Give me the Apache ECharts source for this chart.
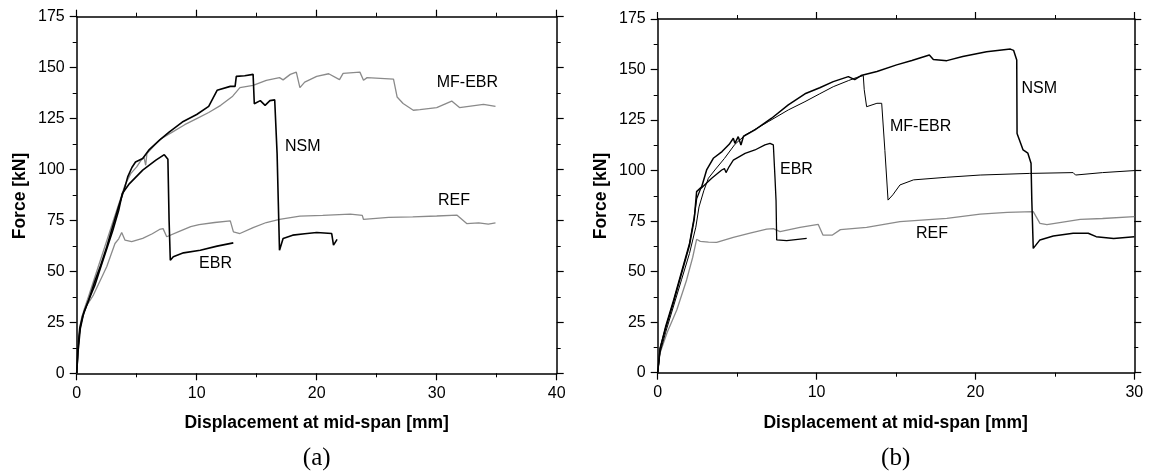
<!DOCTYPE html>
<html><head><meta charset="utf-8">
<script src="https://cdn.jsdelivr.net/npm/echarts@6/dist/echarts.min.js"></script>
<style>html,body{margin:0;padding:0;background:#fff}#c{width:1150px;height:473px}</style>
</head><body><div id="c"></div>
<script>
// ---- Panel (a) data: [displacement mm, force kN]
const aREF = [[0,0],[0.1,8],[0.2,18],[0.42,27.7],[0.8,33],[1.39,38.4],[2,46],[2.5,52.3],[3.19,63.7],[3.5,66],[3.75,69.1],[4.03,65.3],[4.58,64.6],[5.5,66.2],[6.3,68.5],[6.9,70.6],[7.2,71],[7.5,67],[8.5,69.5],[9.5,72],[10.2,73],[11.5,74],[12.8,74.8],[13.06,69.4],[13.6,68.6],[14.7,71.5],[15.8,74],[16.9,75.5],[18.6,77.1],[20.5,77.5],[22.8,78.1],[23.8,77.5],[23.9,75.5],[26,76.5],[28,76.8],[30,77.2],[31.7,77.6],[32.5,73.5],[33.5,73.8],[34.3,73.2],[34.9,73.8]];
const aMF = [[0,0],[0.1,12],[0.3,24],[0.6,31],[1,38],[1.5,47],[2,56],[2.5,65],[3,74],[3.5,83],[4,92],[4.5,98],[5,101.3],[5.3,104],[5.6,106.2],[5.75,102.1],[5.85,107.8],[6.5,112],[7,115],[8,118.5],[9,122],[10,125],[11,128],[12,131.5],[13,136],[13.6,140.2],[14.7,141.3],[15.8,143.8],[16.9,145.1],[17.2,144],[17.8,146.7],[18.3,147.8],[18.6,140.2],[19,142.9],[20,145.7],[21,147],[21.9,144.1],[22.2,147.2],[23.6,147.8],[23.9,143.8],[24.2,145.1],[26.4,144.4],[26.7,135.6],[27.2,132.4],[28.05,129.1],[28.6,129.4],[30,130.4],[31.25,133.6],[31.9,130.4],[33.9,132],[34.9,131]];
const aNSM = [[0,0],[0.1,12],[0.25,22],[0.5,28],[1,36],[1.5,45],[2,53],[2.5,62],[3,72],[3.5,82],[4,91],[4.25,96.4],[4.6,101],[4.9,103.7],[5.5,105.4],[6.05,109.8],[6.9,114.4],[7.7,118.4],[8.8,123.3],[10,127],[11,131],[11.7,138.9],[12.8,140.8],[13.2,140.8],[13.3,145.7],[14,146],[14.7,146.7],[14.8,132.3],[15.3,133.8],[15.7,131.5],[16.1,133.8],[16.5,134.2],[16.7,107.8],[16.8,84],[16.9,60.4],[17.2,66.2],[18,67.8],[19,68.5],[20,69.1],[21.25,68.6],[21.4,62.9],[21.7,65.7]];
const aEBR = [[0,0],[0.1,10],[0.3,22],[0.6,30],[1,36],[1.5,43],[2,52],[2.5,61],[3,70],[3.5,80],[3.8,88.2],[4.4,93.1],[5.5,99.7],[6.6,104.6],[7.3,107.3],[7.45,107],[7.6,105],[7.7,75],[7.8,55.5],[8.05,57.2],[8.9,59.1],[10.3,60.4],[11.7,62.4],[13.05,64]];
// ---- Panel (b) data
const bREF = [[0,0],[0.14,9.6],[0.6,20],[1.2,31],[1.82,45.9],[2.2,57],[2.45,66],[2.68,65],[3.2,64.6],[3.71,64.5],[4.76,67],[5.81,69],[6.86,71],[7.28,71.3],[7.7,69.8],[8.96,71.9],[10.1,73.4],[10.4,68.1],[11.0,68.1],[11.5,70.8],[13.15,71.9],[15.25,74.7],[18.2,76.4],[20.3,78.5],[22,79.3],[23.64,79.7],[24.06,73.9],[24.5,73.3],[26.6,75.9],[28,76.3],[30,77.2]];
const bNSM = [[0,0],[0.15,12],[0.5,22],[1,35],[1.5,49],[2,63],[2.3,76],[2.45,89.6],[2.77,92],[3.08,100.3],[3.5,106.1],[4.05,109.4],[4.5,113],[4.76,116],[4.86,113.5],[5.07,116.8],[5.24,112.7],[5.4,117],[6.12,120.1],[7.17,125.9],[8.22,132.5],[9.27,138],[10.2,141],[11.05,144],[12.0,146.5],[12.4,145],[12.8,147],[13.8,149],[15.04,152.3],[16,154.5],[17.1,157.2],[17.35,155],[18.2,154.4],[19.2,156.4],[20.7,158.8],[22.2,160.1],[22.4,159.5],[22.6,154.7],[22.62,118.4],[23,110.2],[23.3,108.6],[23.5,103.6],[23.55,85],[23.64,61.5],[24.06,65.7],[24.9,67.6],[26.15,69],[27.1,69],[27.6,67.3],[28.7,66.4],[30,67.3]];
const bMF = [[0,0],[0.15,10],[0.5,20],[1,33],[1.5,46],[2,59],[2.4,72],[2.6,82],[2.9,90],[3.19,96.2],[3.6,100.3],[4.2,106],[4.86,113],[5.5,117.5],[6.96,124.2],[8.22,130],[9.27,134.1],[10.2,138],[11.05,141.5],[12,144.5],[12.5,146],[12.94,147],[13.0,140],[13.15,131.6],[13.8,133.3],[14.1,133.3],[14.2,132.4],[14.3,110],[14.5,85.4],[14.8,88],[15.25,92.9],[16.1,95.4],[18.2,96.7],[20.3,97.8],[23.4,98.6],[26.15,99],[26.3,97.8],[28,99],[30,100]];
const bEBR = [[0,0],[0.15,12],[0.5,23],[1,36],[1.5,50],[2,64],[2.3,77],[2.45,86],[2.7,91],[3.4,96.2],[4.03,100.3],[4.2,101],[4.3,99],[4.5,102],[4.76,105.2],[5.5,108.5],[6.12,110.2],[6.75,112.7],[7.07,113.5],[7.28,112.7],[7.38,97],[7.45,85],[7.49,65.7],[8.12,65.3],[9.38,66.5]];
// ---- Curve labels: [text, x, y] in data units (text starts at x, centred on y)
const aLabels = [["MF-EBR",30.0,142.8],["NSM",17.36,111.1],["REF",30.1,85],["EBR",10.2,53.9]];
const bLabels = [["EBR",7.7,100.3],["MF-EBR",14.62,121.7],["NSM",22.9,140.7],["REF",16.26,68.6]];
// ---- Axes
const aXMax = 40, bXMax = 30, yMax = 175, xStep = 10, yStep = 25;
const yTitle = "Force [kN]";
const xTitle = "Displacement at mid-span [mm]";
const panelTags = ["(a)", "(b)"];

const FONT = "'Liberation Sans', Arial, sans-serif";
const chart = echarts.init(document.getElementById('c'), null, {renderer:'canvas'});
const GRAY = '#8a8a8a';

function xAx(gi, max, pos){
  return {gridIndex:gi, type:'value', min:0, max:max, interval:xStep, position:pos,
    axisLine:{show:true, onZero:false, lineStyle:{color:'#000', width:1.5}},
    axisTick:{show:true, inside:false, length:7, lineStyle:{color:'#000', width:1.2}},
    minorTick:{show:true, splitNumber:2, length:4, lineStyle:{color:'#000', width:1}},
    axisLabel:{show:pos==='bottom', margin:12, color:'#000', fontSize:16, fontFamily:FONT},
    splitLine:{show:false}};
}
function yAx(gi, pos){
  return {gridIndex:gi, type:'value', min:0, max:yMax, interval:yStep, position:pos,
    axisLine:{show:true, onZero:false, lineStyle:{color:'#000', width:1.5}},
    axisTick:{show:true, inside:false, length:7, lineStyle:{color:'#000', width:1.2}},
    minorTick:{show:true, splitNumber:2, length:4, lineStyle:{color:'#000', width:1}},
    axisLabel:{show:pos==='left', margin:12, color:'#000', fontSize:16, fontFamily:FONT},
    splitLine:{show:false}};
}
function ln(name, data, xi, yi, color, w){
  return {name:name, type:'line', data:data, xAxisIndex:xi, yAxisIndex:yi,
    showSymbol:false, symbol:'none', smooth:false, animation:false,
    lineStyle:{color:color, width:w}, z:3};
}

chart.setOption({
  animation:false,
  grid:[
    {left:76.7, top:16.7, width:480, height:356.6},
    {left:657.7, top:19, width:476.6, height:353.7}
  ],
  xAxis:[xAx(0,aXMax,'bottom'), xAx(0,aXMax,'top'), xAx(1,bXMax,'bottom'), xAx(1,bXMax,'top')],
  yAxis:[yAx(0,'left'), yAx(0,'right'), yAx(1,'left'), yAx(1,'right')],
  series:[
    ln('REF', aREF, 0, 0, GRAY, 1.3),
    ln('MF-EBR', aMF, 0, 0, GRAY, 1.3),
    ln('EBR', aEBR, 0, 0, '#000', 1.6),
    ln('NSM', aNSM, 0, 0, '#000', 1.6),
    ln('REF', bREF, 2, 2, GRAY, 1.3),
    ln('MF-EBR', bMF, 2, 2, '#000', 1.0),
    ln('EBR', bEBR, 2, 2, '#000', 1.3),
    ln('NSM', bNSM, 2, 2, '#000', 1.5)
  ]
});

function addTexts(){
  const g = [];
  aLabels.forEach(l=>{
    const p = chart.convertToPixel({xAxisIndex:0, yAxisIndex:0}, [l[1], l[2]]);
    g.push({type:'text', x:p[0], y:p[1], style:{text:l[0], font:'16px '+FONT, fill:'#000', textAlign:'left', textVerticalAlign:'middle'}});
  });
  bLabels.forEach(l=>{
    const p = chart.convertToPixel({xAxisIndex:2, yAxisIndex:2}, [l[1], l[2]]);
    g.push({type:'text', x:p[0], y:p[1], style:{text:l[0], font:'16px '+FONT, fill:'#000', textAlign:'left', textVerticalAlign:'middle'}});
  });
  [[20,196],[601,196]].forEach(pt=>{
    g.push({type:'text', x:pt[0], y:pt[1], rotation:Math.PI/2,
      style:{text:yTitle, font:'bold 17.5px '+FONT, fill:'#000', textAlign:'center', textVerticalAlign:'middle'}});
  });
  [[316.7,423],[895.7,423]].forEach(pt=>{
    g.push({type:'text', x:pt[0], y:pt[1], style:{text:xTitle, font:'bold 17.5px '+FONT, fill:'#000', textAlign:'center', textVerticalAlign:'middle'}});
  });
  [[316.7,458],[895.7,458]].forEach((pt,i)=>{
    g.push({type:'text', x:pt[0], y:pt[1], style:{text:panelTags[i], font:'25px "Liberation Serif", "Times New Roman", serif', fill:'#000', textAlign:'center', textVerticalAlign:'middle'}});
  });
  chart.setOption({graphic:g});
}
addTexts();
</script></body></html>
